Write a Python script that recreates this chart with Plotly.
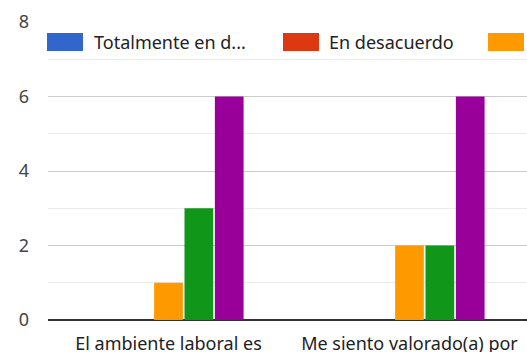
import plotly.graph_objects as go

categories = ["El ambiente laboral es", "Me siento valorado(a) por"]
series_names = ["Totalmente en d...", "En desacuerdo", "Neutral", "De acuerdo", "Totalmente de acuerdo"]
series_colors = ["#3366CC", "#DC3912", "#FF9900", "#109618", "#990099"]
values = {
    "Totalmente en d...": [0, 0],
    "En desacuerdo": [0, 0],
    "Neutral": [1, 2],
    "De acuerdo": [3, 2],
    "Totalmente de acuerdo": [6, 6],
}
y_ticks = [0, 2, 4, 6, 8]

FONT = "Noto Sans"
fig = go.Figure()
for name, color in zip(series_names, series_colors):
    fig.add_trace(go.Bar(x=categories, y=values[name], name=name,
                         marker=dict(color=color, line=dict(width=0)),
                         showlegend=False))

# manual legend (wide swatches like the original)
legend_items = [(series_names[0], series_colors[0], 47, 92),
                (series_names[1], series_colors[1], 283, 327),
                ("", series_colors[2], 488, None)]
W, H = 527, 352
shapes = []
annotations = []
for label, color, sx, tx in legend_items:
    shapes.append(dict(type="rect", xref="paper", yref="paper",
                       x0=(sx - 48) / 479, x1=(sx + 36 - 48) / 479,
                       y0=1 - (51 - 22) / 297.6, y1=1 - (33 - 22) / 297.6,
                       fillcolor=color, line=dict(width=0), layer="above"))
    if label:
        annotations.append(dict(xref="paper", yref="paper",
                                x=(tx - 48) / 479, y=1 - (42 - 22) / 297.6,
                                xanchor="left", yanchor="middle", text=label,
                                showarrow=False,
                                font=dict(family=FONT, size=18, color="#222222")))

fig.update_layout(
    width=W, height=H,
    margin=dict(l=48, r=0, t=22, b=32),
    paper_bgcolor="white", plot_bgcolor="white",
    barmode="group", bargap=0.37, bargroupgap=0.054,
    font=dict(family=FONT, size=18, color="#222222"),
    shapes=shapes, annotations=annotations,
    xaxis=dict(range=[-0.5, 1.4876], showgrid=False, ticks="", showline=False,
               automargin=False,
               tickfont=dict(family=FONT, size=18, color="#222222"),
               ticklabelstandoff=11),
    yaxis=dict(range=[0, 8], tickvals=y_ticks, showgrid=True, gridcolor="#cccccc",
               automargin=False,
               gridwidth=1, zeroline=True, zerolinecolor="#333333", zerolinewidth=1.5,
               minor=dict(dtick=1, showgrid=True, gridcolor="#ebebeb", gridwidth=1),
               ticks="", ticklabelstandoff=18,
               tickfont=dict(family=FONT, size=18, color="#444444")),
)
fig.write_html("out.html")
